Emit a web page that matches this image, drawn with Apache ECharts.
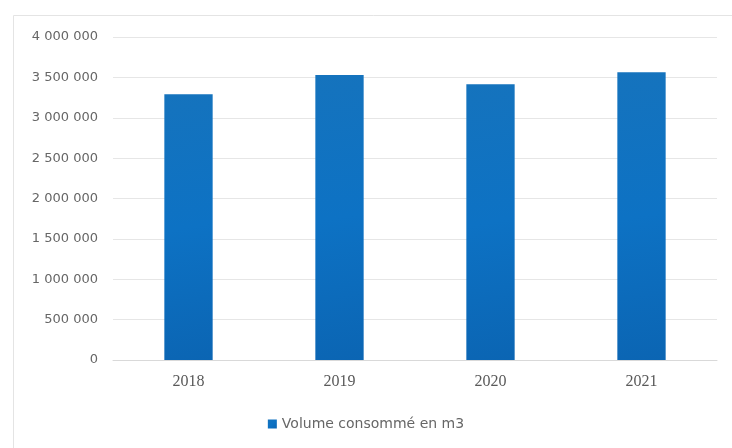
<!DOCTYPE html>
<html><head><meta charset="utf-8">
<script src="https://cdn.jsdelivr.net/npm/echarts@6/dist/echarts.min.js"></script>
<style>html,body{margin:0;padding:0;background:#fff}#c{width:732px;height:448px}</style>
</head><body><div id="c"></div>
<script>
const categories = ['2018', '2019', '2020', '2021'];
const volumes = [3290000, 3530000, 3415000, 3565000];
const seriesName = 'Volume consommé en m3';
const yTicks = { min: 0, max: 4000000, interval: 500000 };

function fmt(v) { return String(v).replace(/\B(?=(\d{3})+(?!\d))/g, ' '); }

const chart = echarts.init(document.getElementById('c'));
chart.setOption({
  animation: false,
  backgroundColor: '#fff',
  graphic: [{ type: 'rect', shape: { x: 13.5, y: 15.5, width: 740, height: 440 }, style: { fill: 'none', stroke: '#e4e4e4', lineWidth: 1 } }],
  grid: { left: 113, right: 15, top: 37, bottom: 88 },
  legend: { bottom: 12, left: 'center', itemWidth: 9, itemHeight: 9, icon: 'rect', itemGap: 6,
    textStyle: { color: '#666', fontSize: 14, fontFamily: 'DejaVu Sans', letterSpacing: 0 } },
  xAxis: { type: 'category', data: categories,
    axisLine: { lineStyle: { color: '#d9d9d9' } }, axisTick: { show: false },
    axisLabel: { color: '#595959', fontSize: 16, margin: 14, fontFamily: 'Liberation Serif' } },
  yAxis: { type: 'value', min: yTicks.min, max: yTicks.max, interval: yTicks.interval,
    axisLine: { show: false }, axisTick: { show: false },
    splitLine: { lineStyle: { color: '#e6e6e6' } },
    axisLabel: { color: '#666', fontSize: 13, margin: 15, formatter: fmt, fontFamily: 'DejaVu Sans' } },
  series: [{ name: seriesName, type: 'bar', data: volumes, barWidth: '32%',
    itemStyle: { color: new echarts.graphic.LinearGradient(0, 0, 1, 1, [
      { offset: 0, color: '#1573bd' }, { offset: 0.5, color: '#0d72c4' }, { offset: 1, color: '#0b65b3' }]) } }]
});
</script></body></html>
